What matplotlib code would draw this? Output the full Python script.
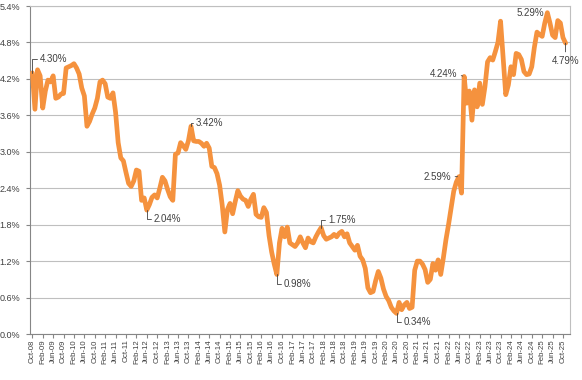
import matplotlib.pyplot as plt
import numpy as np
import pandas as pd

plt.rcParams['font.family'] = ['Liberation Sans', 'DejaVu Sans']

# monthly rate (%), Oct-08 .. Nov-25
rates = [
    4.30, 3.70, 4.35,                                                        # 2008
    4.25, 3.72, 4.00, 4.18, 4.15, 4.25, 3.88, 3.90, 3.95, 3.96, 4.38, 4.40,  # 2009
    4.42, 4.45, 4.38, 4.28, 4.05, 3.92, 3.42, 3.50, 3.62, 3.72, 3.88, 4.15,  # 2010
    4.18, 4.12, 3.90, 3.88, 3.97, 3.65, 3.15, 2.90, 2.85, 2.66, 2.48, 2.43,  # 2011
    2.52, 2.70, 2.68, 2.20, 2.24, 2.04, 2.13, 2.25, 2.29, 2.24, 2.40, 2.58,  # 2012
    2.52, 2.38, 2.26, 2.20, 2.96, 2.98, 3.15, 3.10, 3.04, 3.18, 3.42, 3.18,  # 2013
    3.17, 3.17, 3.14, 3.09, 3.14, 3.06, 2.76, 2.74, 2.64, 2.45, 2.12, 1.68,  # 2014
    2.05, 2.15, 1.98, 2.18, 2.36, 2.27, 2.22, 2.20, 2.10, 2.22, 2.30, 1.97,  # 2015
    1.93, 1.92, 2.08, 2.00, 1.62, 1.35, 1.15, 0.98, 1.50, 1.74, 1.60, 1.76,  # 2016
    1.50, 1.47, 1.44, 1.50, 1.60, 1.50, 1.42, 1.58, 1.52, 1.50, 1.60, 1.68,  # 2017
    1.75, 1.62, 1.56, 1.58, 1.60, 1.64, 1.60, 1.66, 1.69, 1.60, 1.65, 1.50,  # 2018
    1.44, 1.38, 1.46, 1.28, 1.22, 1.08, 0.76, 0.68, 0.70, 0.88, 1.03, 0.92,  # 2019
    0.74, 0.62, 0.55, 0.44, 0.38, 0.34, 0.52, 0.40, 0.48, 0.52, 0.42, 0.44,  # 2020
    1.05, 1.20, 1.20, 1.15, 1.06, 0.85, 0.90, 1.16, 1.05, 1.22, 0.98, 1.25,  # 2021
    1.55, 1.80, 2.08, 2.35, 2.50, 2.59, 2.32, 4.24, 3.80, 4.00, 3.52, 4.02,  # 2022
    3.74, 4.13, 3.78, 4.07, 4.48, 4.55, 4.51, 4.65, 4.80, 5.15, 4.55, 3.94,  # 2023
    4.10, 4.40, 4.27, 4.62, 4.60, 4.52, 4.32, 4.27, 4.28, 4.40, 4.72, 4.97,  # 2024
    4.93, 4.90, 5.12, 5.29, 5.12, 4.92, 4.88, 5.16, 5.12, 4.88, 4.79,        # 2025
]
months = list(pd.date_range("2008-10-01", periods=len(rates), freq="MS").strftime("%b-%y"))

# months that get a value label
callout_months = ["Oct-08", "Jun-12", "Nov-13", "Aug-16", "Jan-18",
                  "Jun-20", "Jun-22", "Aug-22", "Apr-25", "Nov-25"]

y_ticks = np.arange(0, 5.41, 0.6)

fig = plt.figure(figsize=(5.82, 3.80), dpi=100)
ax = fig.add_axes([30/582, 1-334/380, 540/582, 328/380])

x = np.arange(len(rates))
ax.plot(x, rates, color='#F5923E', lw=3.4, solid_joinstyle='round', solid_capstyle='round', zorder=3)

ax.set_xlim(-0.9, 206.7)
ax.set_ylim(0, 5.4)
ax.set_yticks(y_ticks)
ax.set_yticklabels([f"{v:.1f}%" for v in y_ticks])
ax.set_xticks(x[::4])
ax.set_xticklabels(months[::4], rotation=90)
ax.yaxis.grid(True, color='#BFBFBF', lw=0.8)
ax.set_axisbelow(True)

for s in ['left', 'bottom']:
    ax.spines[s].set_color('#868686')
for s in ['top', 'right']:
    ax.spines[s].set_color('#BFBFBF')
ax.tick_params(axis='y', length=3, color='#868686', labelsize=6.5, pad=4, labelcolor='#404040')
ax.tick_params(axis='x', length=3, color='#868686', labelsize=5.6, pad=1, labelcolor='#404040')

# label offsets in pixels: (dx, dy, side)
layout = {
    "Oct-08": (7, 14, 'right'),
    "Jun-12": (7, -9, 'right'),
    "Nov-13": (5, 3, 'right'),
    "Aug-16": (7, -10, 'right'),
    "Jan-18": (7, 8, 'right'),
    "Jun-20": (7, -9, 'right'),
    "Jun-22": (-8, 0, 'left'),
    "Aug-22": (-7, 2, 'left'),
    "Apr-25": (-3, 0, 'none'),
    "Nov-25": (0, -13, 'below'),
}
for m in callout_months:
    i = months.index(m)
    dx, dy, side = layout[m]
    txt = f"{rates[i]:.2f}%"
    if side == 'right':
        ax.annotate(txt, (i, rates[i]), xytext=(dx, dy), textcoords='offset pixels',
                    ha='left', va='center', fontsize=7, color='#404040',
                    arrowprops=dict(arrowstyle='-', color='#404040', lw=0.6, relpos=(0, 0.5),
                                    shrinkA=0, shrinkB=0,
                                    connectionstyle='angle,angleA=0,angleB=90,rad=0'))
    elif side == 'left':
        ax.annotate(txt, (i, rates[i]), xytext=(dx, dy), textcoords='offset pixels',
                    ha='right', va='center', fontsize=7, color='#404040',
                    arrowprops=dict(arrowstyle='-', color='#404040', lw=0.6, relpos=(1, 0.5),
                                    shrinkA=1, shrinkB=1))
    elif side == 'below':
        ax.annotate(txt, (i, rates[i]), xytext=(dx, dy), textcoords='offset pixels',
                    ha='center', va='top', fontsize=7, color='#404040',
                    arrowprops=dict(arrowstyle='-', color='#404040', lw=0.6, relpos=(0.5, 1),
                                    shrinkA=1, shrinkB=0))
    else:
        ax.annotate(txt, (i, rates[i]), xytext=(dx, dy), textcoords='offset pixels',
                    ha='right', va='center', fontsize=7, color='#404040')

fig.savefig('out.png', dpi=100)
